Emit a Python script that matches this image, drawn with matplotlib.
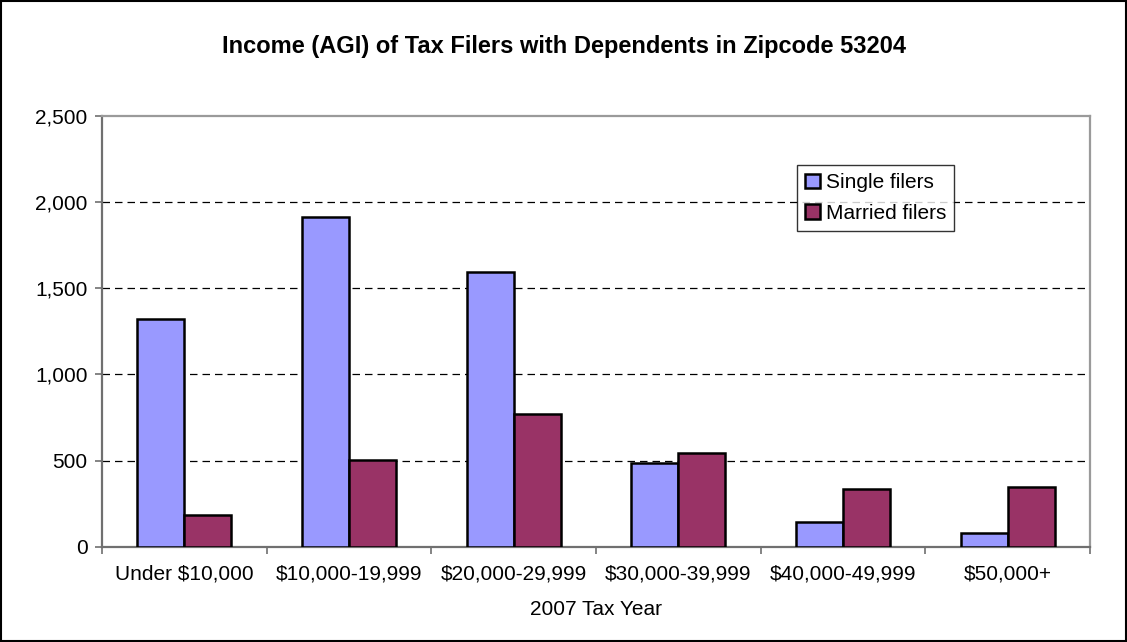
import matplotlib
matplotlib.use("Agg")
import matplotlib.pyplot as plt
import numpy as np
from matplotlib.patches import Rectangle
from matplotlib.ticker import FuncFormatter

plt.rcParams["font.family"] = ["Liberation Sans", "DejaVu Sans"]

categories = ["Under $10,000", "$10,000-19,999", "$20,000-29,999",
              "$30,000-39,999", "$40,000-49,999", "$50,000+"]
single_filers = [1321, 1911, 1593, 487, 141, 81]
married_filers = [184, 503, 768, 542, 335, 348]

FS = 15

fig = plt.figure(figsize=(11.27, 6.42), dpi=100)
ax = fig.add_axes([0.0905, 0.1484, 0.8767, 0.6714])

x = np.arange(len(categories))
w = 0.286
ax.bar(x - w / 2, single_filers, w, color="#9999FF", edgecolor="black", lw=1.8,
       label="Single filers", zorder=3)
ax.bar(x + w / 2, married_filers, w, color="#993366", edgecolor="black", lw=1.8,
       label="Married filers", zorder=3)

ax.set_xlim(-0.5, len(categories) - 0.5)
ax.set_ylim(0, 2500)
ax.set_yticks(range(0, 2501, 500))
ax.yaxis.set_major_formatter(FuncFormatter(lambda v, _: f"{int(v):,}"))
ax.set_xticks(x)
ax.set_xticklabels(categories, fontsize=FS)
ax.set_xticks(np.arange(-0.5, len(categories)), minor=True)
ax.tick_params(axis="x", which="major", length=0, pad=13)
ax.tick_params(axis="x", which="minor", length=5, color="#707070", width=1.2)
ax.tick_params(axis="y", labelsize=FS, length=5, color="#707070", width=1.2, pad=5.5)

# dashed gridlines, the top one is the plot border
for v in range(500, 2001, 500):
    ax.axhline(v, color="black", lw=0.9, ls=(0, (6, 4)), zorder=1)

for side in ["top", "right"]:
    ax.spines[side].set_color("#9a9a9a")
    ax.spines[side].set_linewidth(1.6)
for side in ["left", "bottom"]:
    ax.spines[side].set_color("#707070")
    ax.spines[side].set_linewidth(1.6)

ax.set_xlabel("2007 Tax Year", fontsize=FS, labelpad=12)
fig.suptitle("Income (AGI) of Tax Filers with Dependents in Zipcode 53204",
             fontsize=17, fontweight="bold", y=0.945)

leg = ax.legend(loc="upper left", bbox_to_anchor=(0.703, 0.886), fontsize=FS,
                frameon=True, fancybox=False, shadow=False, borderpad=0.4,
                handlelength=0.7, handleheight=0.7, handletextpad=0.3,
                labelspacing=0.55, borderaxespad=0)
leg.get_frame().set_edgecolor("black")
leg.get_frame().set_linewidth(1.0)

fig.patches.append(Rectangle((0.0009, 0.0016), 0.9982, 0.9968, transform=fig.transFigure,
                             fill=False, edgecolor="black", lw=1.5))

fig.savefig("out.png", dpi=100)
